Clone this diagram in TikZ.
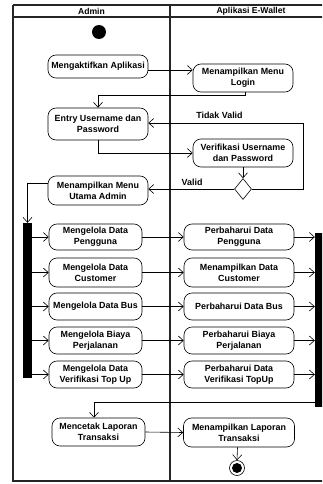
\documentclass[tikz,border=0pt]{standalone}
\usepackage{fontspec}
\setmainfont{Liberation Sans}
\usetikzlibrary{arrows.meta,shapes.geometric}
\begin{document}
\begin{tikzpicture}[x=1pt,y=-1pt,
  lane/.style={line width=1.1pt, draw=black!85},
  hdr/.style={font=\bfseries\fontsize{8.6}{10}\selectfont, inner sep=0pt},
  act/.style={draw, rounded corners=8pt, line width=0.6pt, align=center,
    font=\bfseries\fontsize{8.9}{11.2}\selectfont, inner sep=1pt},
  lbox/.style={act, minimum width=93pt, minimum height=27pt},
  rbox/.style={act, minimum width=110pt, minimum height=27pt},
  bar/.style={fill=black, draw=none, inner sep=0pt},
  flow/.style={-{Straight Barb[length=5pt,width=9pt]}, line width=0.6pt},
  lbl/.style={font=\bfseries\fontsize{8.9}{10}\selectfont, inner sep=0pt}]
\useasboundingbox (0,0) rectangle (322,484);
\clip (0,0) rectangle (322,484);
% swimlanes
\draw[lane] (13,5) -- (332,5);
\draw[lane] (13,17) -- (332,17);
\draw[lane] (13,5) -- (13,481) -- (332,481);
\draw[lane] (170,5) -- (170,481);
\node[hdr] (hA) at (91.5,11) {Admin};
\node[hdr] (hB) at (251,11) {Aplikasi E-Wallet};
% start
\node[circle, fill=black, minimum size=14pt, inner sep=0pt] (start) at (99,32) {};
% nodes
\node[act, minimum width=100pt, minimum height=23pt] (akt) at (98,66.5) {Mengaktifkan Aplikasi};
\node[act, minimum width=100pt, minimum height=28pt] (login) at (243,78) {Menampilkan Menu\\Login};
\node[act, minimum width=100pt, minimum height=32pt] (entry) at (98,124) {Entry Username dan\\Password};
\node[act, minimum width=100pt, minimum height=28pt] (verif) at (243,153) {Verifikasi Username\\dan Password};
\node[diamond, draw, line width=0.6pt, minimum width=17pt, minimum height=21pt, inner sep=0pt] (dec) at (243,189) {};
\node[act, minimum width=100pt, minimum height=29pt] (utama) at (98,190.5) {Menampilkan Menu\\Utama Admin};
% fork and join bars
\node[bar, minimum width=9pt, minimum height=155pt] (fork) at (27.5,300.5) {};
\node[bar, minimum width=15pt, minimum height=174pt] (join) at (322.5,320) {};
% loop rows
\node[lbox, minimum height=26pt] (l1) at (95.5,237) {Mengelola Data\\Pengguna};
\node[lbox, minimum height=29pt] (l2) at (95.5,272.5) {Mengelola Data\\Customer};
\node[lbox] (l3) at (95.5,306.5) {Mengelola Data Bus};
\node[lbox] (l4) at (95.5,340.5) {Mengelola Biaya\\Perjalanan};
\node[lbox] (l5) at (95.5,374.5) {Mengelola Data\\Verifikasi Top Up};
\node[rbox, minimum height=26pt] (r1) at (239,237) {Perbaharui Data\\Pengguna};
\node[rbox, minimum height=29pt] (r2) at (239,272.5) {Menampilkan Data\\Customer};
\node[rbox] (r3) at (239,306.5) {Perbaharui Data Bus};
\node[rbox] (r4) at (239,340.5) {Perbaharui Biaya\\Perjalanan};
\node[rbox] (r5) at (239,374.5) {Perbaharui Data\\Verifikasi TopUp};
\node[act, minimum width=93pt, minimum height=28pt] (cetak) at (98.5,432) {Mencetak Laporan\\Transaksi};
\node[act, minimum width=111pt, minimum height=29pt] (lap) at (239,432.5) {Menampilkan Laporan\\Transaksi};
% end
\node[circle, draw, line width=0.6pt, minimum size=15pt, inner sep=0pt] (endo) at (237,468) {};
\node[circle, fill=black, minimum size=10pt, inner sep=0pt] (endi) at (237,468) {};
% connectors
\coordinate (a1) at ([yshift=-3.5pt]akt.east);
\draw[flow] (a1) -- (login.west |- a1);
\coordinate (a2) at ([xshift=2pt]login.south);
\draw[flow] (a2) -- ++(0,3) -| (entry.north);
\draw[flow] (entry.south) |- (verif.west);
\draw[flow] (verif.south) -- (dec.north);
\draw[flow] (dec.west) -- (utama.east |- dec.west) node[lbl, pos=0.49, above=3pt] (lv) {Valid};
\coordinate (tv) at (303,189);
\coordinate (a3) at ([yshift=1pt]entry.east);
\draw[flow] (dec.east) -- (tv) |- (a3) node[lbl, pos=0.77, above=4pt] (ltv) {Tidak Valid};
\coordinate (a4) at ([yshift=7.5pt]utama.west);
\draw[flow] (a4) -| (fork.north);
\foreach \i in {1,...,5} {
  \draw[flow] (fork.east |- l\i.west) -- (l\i.west);
  \draw[flow] (l\i.east) -- (r\i.west);
  \draw[flow] (r\i.east) -- (join.west |- r\i.east);
}
\coordinate (jb) at (315,402);
\coordinate (a5) at ([xshift=-4.5pt]cetak.north);
\draw[flow] (jb) -| (a5);
\draw[flow] (cetak.east) -- (lap.west);
\coordinate (a6) at ([xshift=-1.5pt]lap.south);
\draw[flow] (a6) -- (endo.north);
\end{tikzpicture}
\end{document}
